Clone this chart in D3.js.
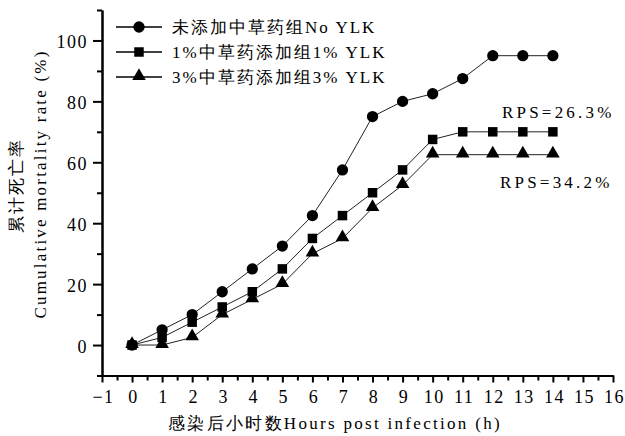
<!DOCTYPE html>
<html lang="zh">
<head>
    <meta charset="UTF-8">
    <title>累计死亡率</title>
    <script src="https://d3js.org/d3.v7.min.js"></script>
    <style>
        body {
            margin: 0;
            background: #fff;
            overflow: hidden;
        }
        svg text {
            font-family: "Times New Roman", "Liberation Serif", Times, "DejaVu Serif", serif;
            fill: #000;
        }
        .axis path, .axis line {
            stroke: #000;
            stroke-width: 2;
        }
        .axis text {
            font-size: 18px;
            letter-spacing: 1.5px;
        }
    </style>
</head>
<body>
    <div id="chart"></div>
    <script>
        // data
        const hours = [0, 1, 2, 3, 4, 5, 6, 7, 8, 9, 10, 11, 12, 13, 14];
        const noYLK = [0, 5, 10, 17.5, 25, 32.5, 42.5, 57.5, 75, 80, 82.5, 87.5, 95, 95, 95];
        const ylk1 = [0, 2.5, 7.5, 12.5, 17.5, 25, 35, 42.5, 50, 57.5, 67.5, 70, 70, 70, 70];
        const ylk3 = [0, 0, 2.5, 10, 15, 20, 30, 35, 45, 52.5, 62.5, 62.5, 62.5, 62.5, 62.5];
        const seriesNames = ["未添加中草药组No YLK", "1%中草药添加组1% YLK", "3%中草药添加组3% YLK"];
        const seriesSymbols = ["circle", "square", "triangle"];
        const xTicks = d3.range(-1, 17);
        const yTicks = [0, 20, 40, 60, 80, 100];
        const rpsLabels = ["RPS=26.3%", "RPS=34.2%"];

        const width = 625, height = 436;
        const svg = d3.select("#chart").append("svg")
            .attr("width", width)
            .attr("height", height);

        const x = d3.scaleLinear().domain([-1, 16]).range([102, 613]);
        const y = d3.scaleLinear().domain([-10, 110]).range([375.5, 10]);

        // x axis: major ticks with labels, minor half-hour ticks
        svg.append("g")
            .attr("class", "axis")
            .attr("transform", `translate(0,${y(-10)})`)
            .call(d3.axisBottom(x).tickValues(d3.range(-0.5, 16, 1)).tickSize(5).tickSizeOuter(0).tickFormat(""));
        svg.append("g")
            .attr("class", "axis")
            .attr("transform", `translate(0,${y(-10)})`)
            .call(d3.axisBottom(x).tickValues(xTicks).tickSize(7).tickSizeOuter(0).tickPadding(8))
            .call(g => g.selectAll("text").attr("dx", "1px"));

        // y axis
        svg.append("g")
            .attr("class", "axis")
            .attr("transform", `translate(${x(-1)},0)`)
            .call(d3.axisLeft(y).tickValues(d3.range(-10, 111, 20)).tickSize(5).tickSizeOuter(0).tickFormat(""));
        svg.append("g")
            .attr("class", "axis")
            .attr("transform", `translate(${x(-1)},0)`)
            .call(d3.axisLeft(y).tickValues(yTicks).tickSize(9).tickSizeOuter(0).tickPadding(5))
            .call(g => g.selectAll("text").attr("dy", "0.4em"));

        // axis titles
        svg.append("text")
            .attr("x", 335)
            .attr("y", 429)
            .attr("text-anchor", "middle")
            .style("font-size", "17px")
            .style("letter-spacing", "2.3px")
            .text("感染后小时数Hours post infection (h)");

        svg.append("text")
            .attr("transform", "translate(22,185) rotate(-90)")
            .attr("text-anchor", "middle")
            .style("font-size", "17px")
            .style("letter-spacing", "2px")
            .text("累计死亡率");
        svg.append("text")
            .attr("transform", "translate(46,184) rotate(-90)")
            .attr("text-anchor", "middle")
            .style("font-size", "17px")
            .style("letter-spacing", "2.2px")
            .text("Cumulative mortality rate (%)");

        const symbolType = {
            circle: d3.symbolCircle,
            square: d3.symbolSquare,
            triangle: d3.symbolTriangle
        };
        const symbolSize = { circle: 100, square: 90, triangle: 80 };

        const allSeries = [noYLK, ylk1, ylk3];
        const line = d3.line()
            .x((d, i) => x(hours[i]))
            .y(d => y(d));

        // draw lines first so markers sit on top
        allSeries.forEach(vals => {
            svg.append("path")
                .datum(vals)
                .attr("d", line)
                .attr("fill", "none")
                .attr("stroke", "#222")
                .attr("stroke-width", 1);
        });
        allSeries.forEach((vals, s) => {
            const sym = seriesSymbols[s];
            svg.append("g")
                .selectAll("path")
                .data(vals)
                .join("path")
                .attr("transform", (d, i) => `translate(${x(hours[i])},${y(d) + (sym === "triangle" ? -1 : 0)})`)
                .attr("d", d3.symbol().type(symbolType[sym]).size(symbolSize[sym]))
                .attr("fill", "#000");
        });

        // legend
        const legend = svg.append("g");
        seriesNames.forEach((name, i) => {
            const ly = 27 + i * 25;
            const sym = seriesSymbols[i];
            legend.append("line")
                .attr("x1", 116).attr("x2", 162)
                .attr("y1", ly).attr("y2", ly)
                .attr("stroke", "#000")
                .attr("stroke-width", 1.5);
            legend.append("path")
                .attr("transform", `translate(139,${ly + (sym === "triangle" ? -1 : 0)})`)
                .attr("d", d3.symbol().type(symbolType[sym]).size(symbolSize[sym]))
                .attr("fill", "#000");
            legend.append("text")
                .attr("x", 172)
                .attr("y", ly)
                .attr("dy", "0.35em")
                .style("font-size", "17px")
                .style("letter-spacing", "2px")
                .text(name);
        });

        // RPS annotations
        svg.append("text")
            .attr("x", 502)
            .attr("y", 118)
            .style("font-size", "17px")
            .style("letter-spacing", "3.2px")
            .text(rpsLabels[0]);
        svg.append("text")
            .attr("x", 500)
            .attr("y", 188)
            .style("font-size", "17px")
            .style("letter-spacing", "3.2px")
            .text(rpsLabels[1]);
    </script>
</body>
</html>
